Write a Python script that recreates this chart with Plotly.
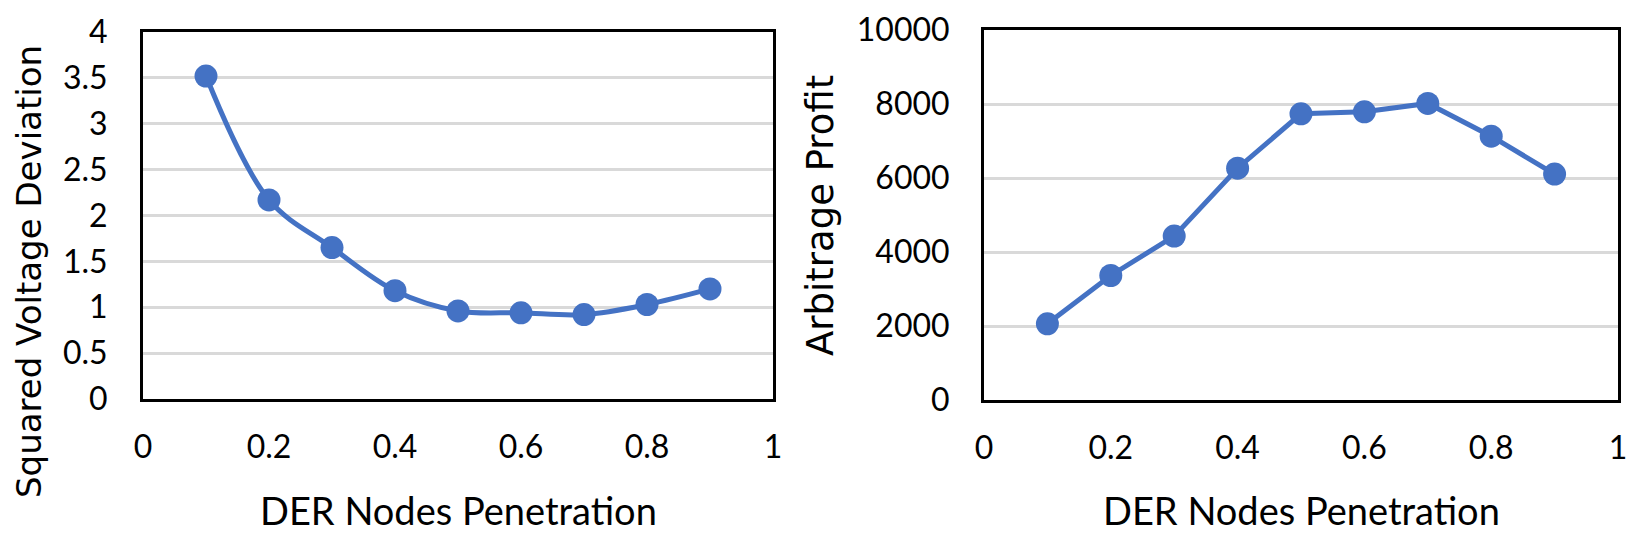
import plotly.graph_objects as go

# page body has an 8px default margin, so the figure is drawn 8px smaller
OFF = 8
W, H = 1650 - OFF, 542 - OFF

penetration = [0.1, 0.2, 0.3, 0.4, 0.5, 0.6, 0.7, 0.8, 0.9]
voltage_dev = [3.52, 2.17, 1.65, 1.18, 0.96, 0.94, 0.92, 1.03, 1.20]
arb_profit = [2060, 3365, 4430, 6265, 7735, 7790, 8015, 7130, 6105]

x_ticks = [0, 0.2, 0.4, 0.6, 0.8, 1]
x_tick_text = ["0", "0.2", "0.4", "0.6", "0.8", "1"]
y1_ticks = [0, 0.5, 1, 1.5, 2, 2.5, 3, 3.5, 4]
y1_tick_text = ["0", "0.5", "1", "1.5", "2", "2.5", "3", "3.5", "4"]
y2_ticks = [0, 2000, 4000, 6000, 8000, 10000]
y2_tick_text = ["0", "2000", "4000", "6000", "8000", "10000"]

x_title = "DER Nodes Penetration"
y1_title = "Squared Voltage Deviation"
y2_title = "Arbitrage Profit"

BLUE = "#4472C4"
GRID = "#D9D9D9"
TICKFONT = dict(family="Lato", size=32, color="#000000")
TITLEFONT_X = dict(family="Lato", size=38, color="#000000")

fig = go.Figure()
fig.add_trace(go.Scatter(
    x=penetration, y=voltage_dev, mode="lines+markers",
    line=dict(color=BLUE, width=5, shape="spline", smoothing=1.0),
    marker=dict(color=BLUE, size=23),
    xaxis="x", yaxis="y", showlegend=False, cliponaxis=False))
fig.add_trace(go.Scatter(
    x=penetration, y=arb_profit, mode="lines+markers",
    line=dict(color=BLUE, width=5),
    marker=dict(color=BLUE, size=23),
    xaxis="x2", yaxis="y2", showlegend=False, cliponaxis=False))

def xax(domain, anchor):
    return dict(domain=domain, anchor=anchor, range=[0, 1], tickvals=x_ticks,
                ticktext=x_tick_text, showgrid=False, zeroline=False,
                showline=True, mirror=True, linecolor="#000000", linewidth=3,
                ticks="", tickfont=TICKFONT, ticklabelstandoff=18,
                automargin=False, fixedrange=True)

def yax(domain, anchor, rng, vals, text, standoff):
    return dict(domain=domain, anchor=anchor, range=rng, tickvals=vals, ticktext=text,
                showgrid=True, gridcolor=GRID, gridwidth=3, zeroline=False,
                showline=True, mirror=True, linecolor="#000000", linewidth=3,
                ticks="", tickfont=TICKFONT, ticklabelstandoff=standoff,
                automargin=False, fixedrange=True)

def px(v):
    return (v - OFF) / W

def py(v):
    return 1 - (v - OFF) / H

L1, R1 = px(143), px(773)
L2, R2 = px(984), px(1618)
B1, T1 = py(399), py(32)
B2, T2 = py(400), py(30)

fig.update_layout(
    width=W, height=H,
    margin=dict(l=0, r=0, t=0, b=0, autoexpand=False),
    paper_bgcolor="#FFFFFF", plot_bgcolor="#FFFFFF",
    xaxis=xax([L1, R1], "y"),
    yaxis=yax([B1, T1], "x", [0, 4], y1_ticks, y1_tick_text, 26),
    xaxis2=xax([L2, R2], "y2"),
    yaxis2=yax([B2, T2], "x2", [0, 10000], y2_ticks, y2_tick_text, 25),
    annotations=[
        dict(text=x_title, x=(L1 + R1) / 2, y=py(510), xref="paper", yref="paper",
             showarrow=False, font=TITLEFONT_X, xanchor="center", yanchor="middle"),
        dict(text=x_title, x=(L2 + R2) / 2, y=py(510), xref="paper", yref="paper",
             showarrow=False, font=TITLEFONT_X, xanchor="center", yanchor="middle"),
        dict(text=y1_title, x=px(29), y=py(272), xref="paper", yref="paper",
             showarrow=False, font=dict(family="DejaVu Sans", size=34, color="#000000"),
             textangle=-90, xanchor="center", yanchor="middle"),
        dict(text=y2_title, x=px(820), y=py(216), xref="paper", yref="paper",
             showarrow=False, font=dict(family="DejaVu Sans", size=37, color="#000000"),
             textangle=-90, xanchor="center", yanchor="middle"),
    ],
)

fig.write_html("out.html")
